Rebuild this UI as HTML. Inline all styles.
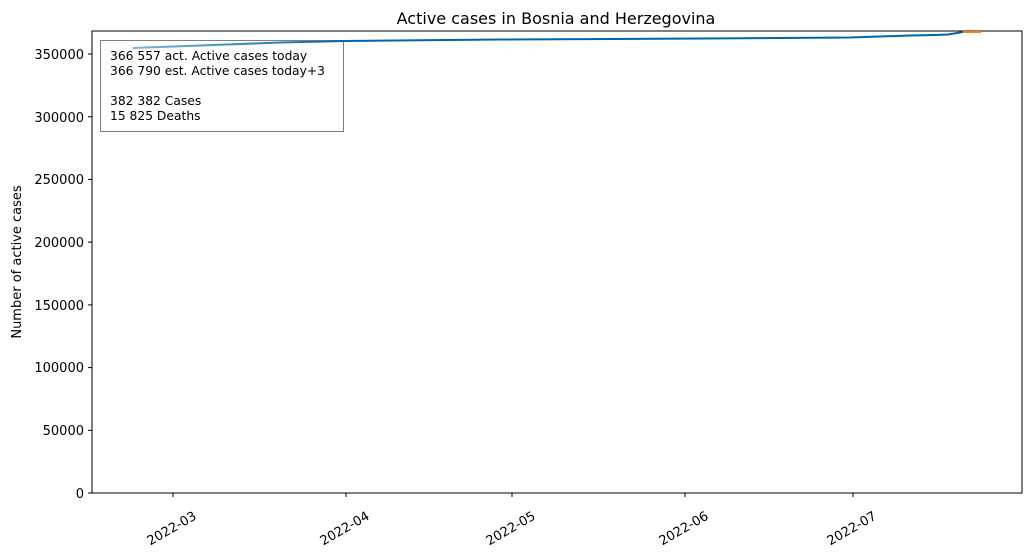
<!DOCTYPE html>
<html><head><style>body{margin:0;background:#fff}svg{display:block;font-family:"DejaVu Sans","Liberation Sans",sans-serif}</style></head>
<body>
<svg width="1031" height="554" xmlns="http://www.w3.org/2000/svg">
<defs><linearGradient id="g" x1="133" x2="345" y1="0" y2="0" gradientUnits="userSpaceOnUse"><stop offset="0" stop-color="#7fb3d5"/><stop offset="1" stop-color="#0066a6"/></linearGradient></defs>
<text x="556" y="24" font-size="16" text-anchor="middle">Active cases in Bosnia and Herzegovina</text>
<rect x="92" y="31" width="930" height="462" fill="none" stroke="#000" stroke-width="1"/>
<rect x="100.5" y="40.5" width="243" height="91" fill="#fff" stroke="#808080"/>
<polyline fill="none" stroke="url(#g)" stroke-width="2" points="133,48 200,45.5 280,42.5 345,41"/>
<polyline fill="none" stroke="#0066a6" stroke-width="2" points="345,41 500,39.5 700,38.5 850,37.5 880,36.5 910,35.5 935,35 948,34.5 963,32"/>
<line x1="963" y1="32" x2="981" y2="32" stroke="#ff7f0e" stroke-width="2"/>
<g font-size="12.3">
<text x="110" y="60">366 557 act. Active cases today</text>
<text x="110" y="75">366 790 est. Active cases today+3</text>
<text x="110" y="105">382 382 Cases</text>
<text x="110" y="120">15 825 Deaths</text>
</g>
<g stroke="#000">
<line x1="88" x2="92" y1="493" y2="493"/><line x1="88" x2="92" y1="430.3" y2="430.3"/><line x1="88" x2="92" y1="367.6" y2="367.6"/><line x1="88" x2="92" y1="304.9" y2="304.9"/><line x1="88" x2="92" y1="242.1" y2="242.1"/><line x1="88" x2="92" y1="179.4" y2="179.4"/><line x1="88" x2="92" y1="116.7" y2="116.7"/><line x1="88" x2="92" y1="54" y2="54"/>
<line x1="173" x2="173" y1="493" y2="497"/><line x1="346" x2="346" y1="493" y2="497"/><line x1="512" x2="512" y1="493" y2="497"/><line x1="685" x2="685" y1="493" y2="497"/><line x1="853" x2="853" y1="493" y2="497"/>
</g>
<g font-size="13" text-anchor="end">
<text x="84" y="498">0</text><text x="84" y="435">50000</text><text x="84" y="372">100000</text><text x="84" y="310">150000</text><text x="84" y="247">200000</text><text x="84" y="184">250000</text><text x="84" y="122">300000</text><text x="84" y="59">350000</text>
</g>
<g font-size="13" text-anchor="middle" dominant-baseline="middle">
<text transform="translate(172,529) rotate(-30)">2022-03</text>
<text transform="translate(345,529) rotate(-30)">2022-04</text>
<text transform="translate(511,529) rotate(-30)">2022-05</text>
<text transform="translate(684,529) rotate(-30)">2022-06</text>
<text transform="translate(852,529) rotate(-30)">2022-07</text>
</g>
<text transform="translate(21,262) rotate(-90)" font-size="13" text-anchor="middle">Number of active cases</text>
</svg>
</body></html>
